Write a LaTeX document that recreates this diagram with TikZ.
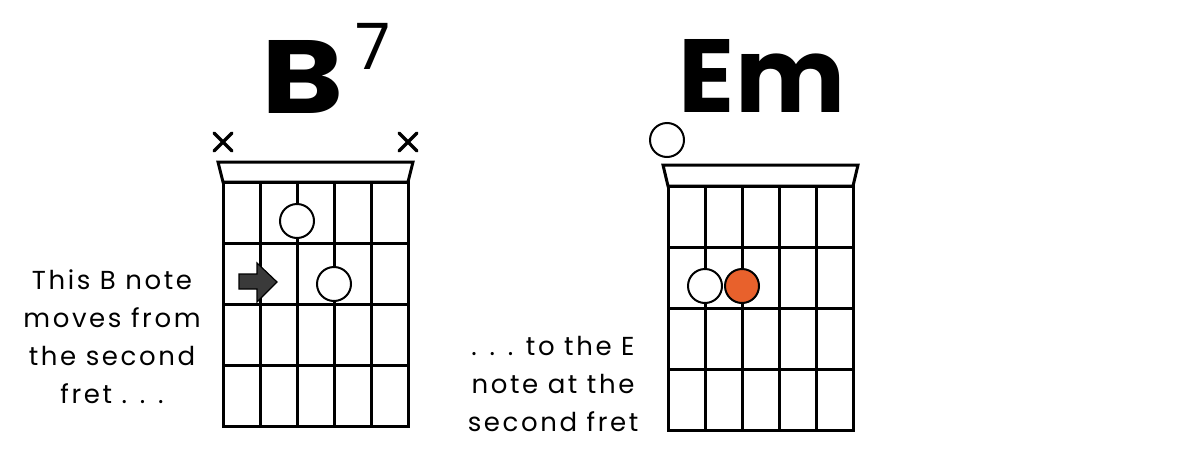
\documentclass[tikz,border=0pt]{standalone}
\usepackage{fontspec}
\setmainfont{Poppins}
\newfontfamily\handfont[LetterSpace=10]{Poppins}
\usepackage{xcolor}
\usetikzlibrary{calc, positioning}
\definecolor{fingerorange}{HTML}{E8612C}
\definecolor{arrowgrey}{HTML}{3A3A3A}
\tikzset{
  fret/.style={line width=1.5pt, line cap=rect},
  dot/.style={circle, draw, line width=1pt, fill=white, minimum size=17pt, inner sep=0pt},
  mute/.style={line width=1.6pt, line cap=round},
  note/.style={font=\handfont\fontsize{13}{19}\selectfont, align=center},
  chord/.style={font=\fontsize{52}{52}\selectfont\bfseries, anchor=base}
}

\begin{document}
\begin{tikzpicture}[x=0.5pt,y=-0.5pt]
    \useasboundingbox (0,0) rectangle (1200,450);
    \def\sgap{37}
    \def\fgap{61}
    \node[chord] (bseven) at (326,113) {\scalebox{1.2}[1]{B}\hspace{6pt}\raisebox{22pt}{\fontsize{32}{32}\selectfont\mdseries 7}};
    \node[chord] (eminor) at (762,112) {Em};
    \begin{scope}[shift={(223,182)}]
        \draw[fret] (-5,-20) -- (190,-20) -- (185,0) -- (0,0) -- cycle;
        \foreach \s in {0,...,5} \draw[fret] (\s*\sgap,0) -- (\s*\sgap,4*\fgap);
        \foreach \f in {0,...,4} \draw[fret] (0,\f*\fgap) -- (5*\sgap,\f*\fgap);
        \foreach \xx in {0,185} \draw[mute] (\xx-9,-49) -- ++(18,18) (\xx-9,-31) -- ++(18,-18);
        \node[dot] (bdot1) at (2*\sgap,39) {};
        \node[dot] (bdot2) at (3*\sgap,102) {};
        \filldraw[fill=arrowgrey, draw=black, line width=0.6pt] (16,92) -- (34,92) -- (34,81) -- (54,100) -- (34,120) -- (34,107) -- (16,107) -- cycle;
    \end{scope}
    \begin{scope}[shift={(668,186)}]
        \draw[fret] (-5,-21) -- (190,-21) -- (185,0) -- (0,0) -- cycle;
        \foreach \s in {0,...,5} \draw[fret] (\s*\sgap,0) -- (\s*\sgap,4*\fgap);
        \foreach \f in {0,...,4} \draw[fret] (0,\f*\fgap) -- (5*\sgap,\f*\fgap);
        \node[dot] (eopen) at (-1,-46) {};
        \node[dot] (edot1) at (1*\sgap,100) {};
        \node[dot, fill=fingerorange] (edot2) at (2*\sgap,100) {};
    \end{scope}
    \node[note] (leftnote) at (112,337) {This B note\\moves from\\the second\\fret . . .};
    \node[note] (rightnote) at (553,384) {. . . to the E\\note at the\\second fret};
\end{tikzpicture}
\end{document}
